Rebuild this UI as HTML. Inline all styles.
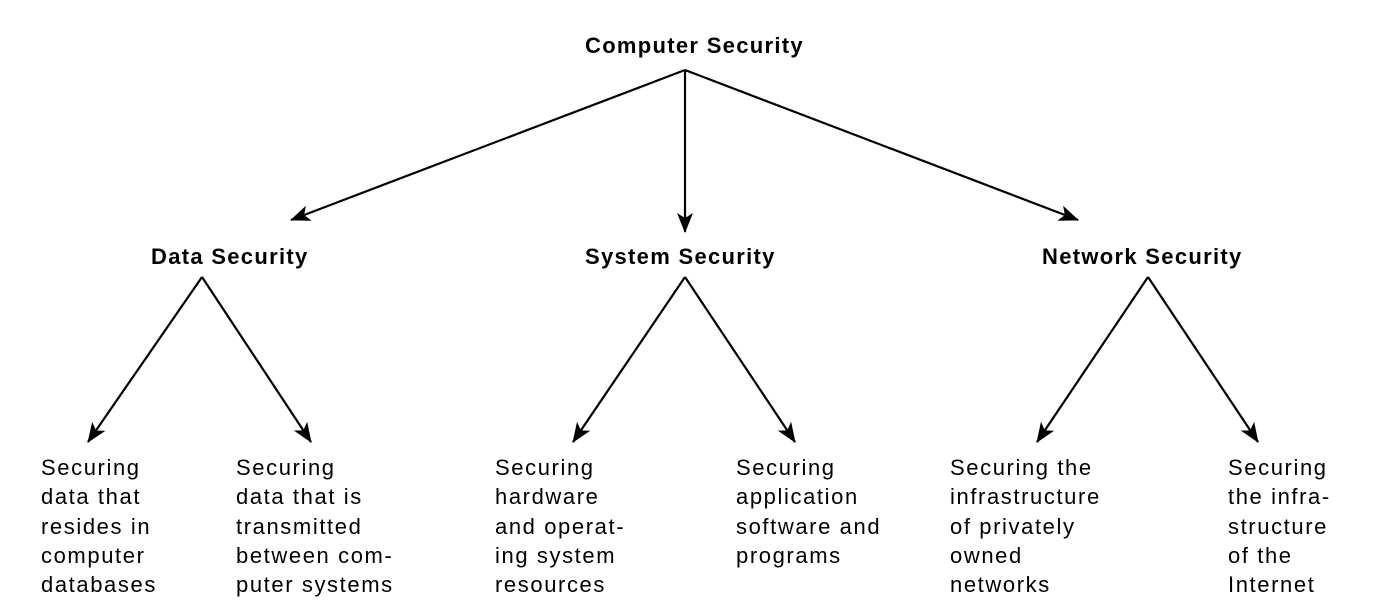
<!DOCTYPE html>
<html><head><style>
html,body{margin:0;padding:0;background:#fff;width:1386px;height:610px;overflow:hidden}
svg{position:absolute;left:0;top:0}
.t{position:absolute;font-family:"Liberation Sans",sans-serif;font-weight:bold;font-size:22px;letter-spacing:1.3px;color:#000;white-space:nowrap}
.l{position:absolute;font-family:"Liberation Sans",sans-serif;font-size:22px;letter-spacing:1.6px;line-height:29.3px;color:#000;white-space:nowrap;top:453px}
</style></head><body>
<svg width="1386" height="610">
<defs><marker id="a" viewBox="0 0 20 16" refX="19" refY="8" markerWidth="20" markerHeight="16" markerUnits="userSpaceOnUse" orient="auto">
<path d="M0,0 L20,8 L0,16 L5,8 Z" fill="#000"/></marker></defs>
<g stroke="#000" stroke-width="2.2" fill="none" marker-end="url(#a)">
<line x1="685" y1="70" x2="291" y2="220"/>
<line x1="685" y1="70" x2="685" y2="232"/>
<line x1="685" y1="70" x2="1078" y2="220"/>
<line x1="202" y1="277" x2="88" y2="442"/>
<line x1="202" y1="277" x2="311" y2="442"/>
<line x1="685" y1="277" x2="573" y2="442"/>
<line x1="685" y1="277" x2="795" y2="442"/>
<line x1="1148" y1="277" x2="1037" y2="442"/>
<line x1="1148" y1="277" x2="1258" y2="442"/>
</g></svg>
<div class="t" style="left:585px;top:33px">Computer Security</div>
<div class="t" style="left:151px;top:244px">Data Security</div>
<div class="t" style="left:585px;top:244px">System Security</div>
<div class="t" style="left:1042px;top:244px">Network Security</div>
<div class="l" style="left:41px">Securing<br>data that<br>resides in<br>computer<br>databases</div>
<div class="l" style="left:236px">Securing<br>data that is<br>transmitted<br>between com-<br>puter systems</div>
<div class="l" style="left:495px">Securing<br>hardware<br>and operat-<br>ing system<br>resources</div>
<div class="l" style="left:736px">Securing<br>application<br>software and<br>programs</div>
<div class="l" style="left:950px">Securing the<br>infrastructure<br>of privately<br>owned<br>networks</div>
<div class="l" style="left:1228px">Securing<br>the infra-<br>structure<br>of the<br>Internet</div>
</body></html>
